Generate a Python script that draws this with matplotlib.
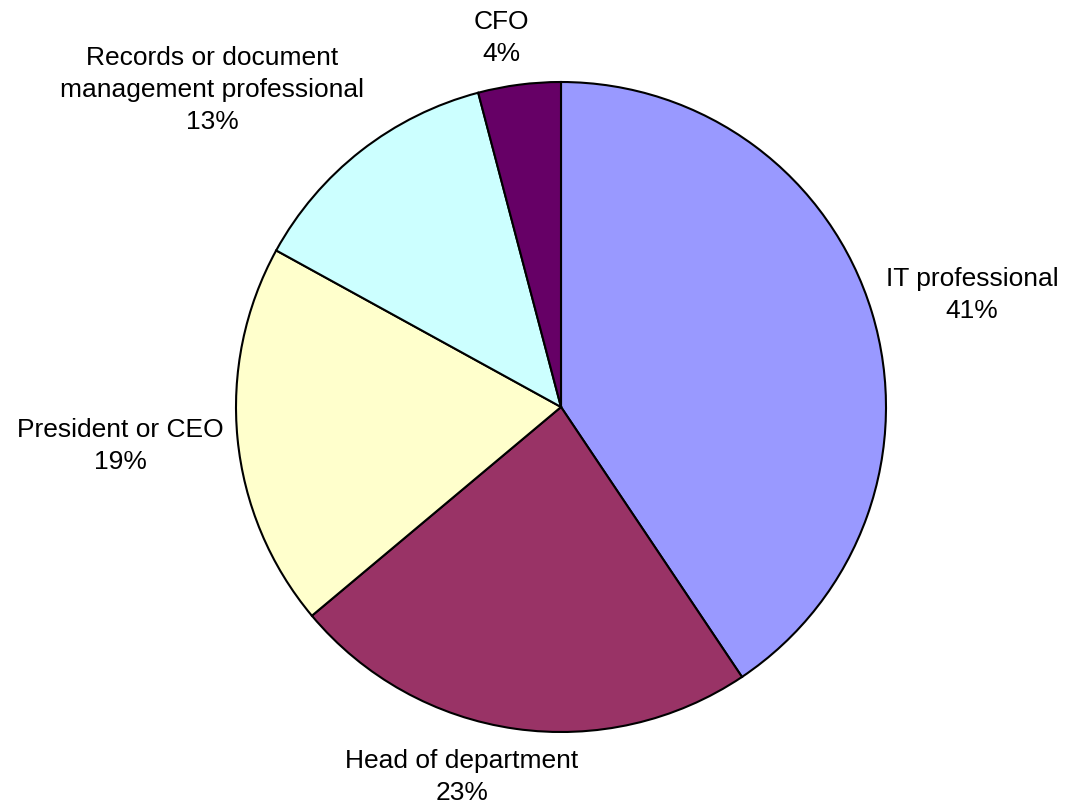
import numpy as np
import matplotlib
matplotlib.use("Agg")
import matplotlib.pyplot as plt

plt.rcParams["font.family"] = ["Liberation Sans", "DejaVu Sans"]

categories = ["IT professional", "Head of department", "President or CEO",
              "Records or document\nmanagement professional", "CFO"]
# wedge sizes; labels show them rounded
shares = [40.6, 23.3, 19.1, 12.9, 4.1]
colors = ["#9999FF", "#993366", "#FFFFCC", "#CCFFFF", "#660066"]
# radial distance of each label centre (pie radius = 1) and angular nudge
label_dist = [1.31, 1.18, 1.362, 1.45, 1.15]
label_angle_shift = [-1.7, -6.9, -0.55, 9.8, 1.8]

fig = plt.figure(figsize=(10.65, 8.07), dpi=100)
ax = fig.add_axes([0, 0, 1, 1])
ax.axis("off")

wedges, _ = ax.pie(shares, colors=colors, startangle=90, counterclock=False,
                   radius=1.0, center=(0, 0),
                   wedgeprops=dict(edgecolor="black", linewidth=1.5))

for w, cat, val, d, sh in zip(wedges, categories, shares, label_dist, label_angle_shift):
    mid = np.deg2rad((w.theta1 + w.theta2) / 2 + sh)
    ax.text(d * np.cos(mid), d * np.sin(mid), f"{cat}\n{val:.0f}%",
            ha="center", va="center", multialignment="center",
            fontsize=19, linespacing=1.42)

# pixel mapping: centre at (561, 407), radius 325 px
ax.set_xlim(-561 / 325, (1065 - 561) / 325)
ax.set_ylim(-(807 - 407) / 325, 407 / 325)
ax.set_aspect("auto")

fig.savefig("out.png", dpi=100)
